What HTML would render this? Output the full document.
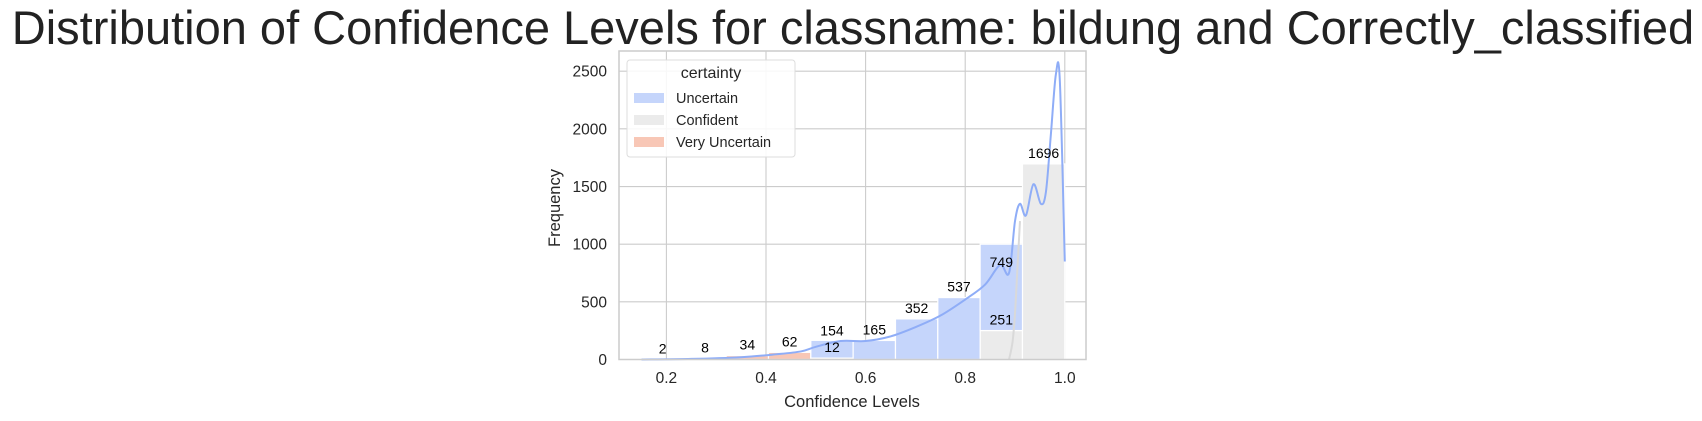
<!DOCTYPE html>
<html><head><meta charset="utf-8">
<style>
body{margin:0;background:#fff;}
svg{display:block;font-family:"Liberation Sans","DejaVu Sans",sans-serif;}
</style></head>
<body>
<svg id="chart" width="1702" height="421" viewBox="0 0 1702 421">
<text x="853" y="44" text-anchor="middle" font-size="47" fill="#222">Distribution of Confidence Levels for classname: bildung and Correctly_classified</text>
<g id="grid"></g>
<g id="bars"></g>
<g id="kde"></g>
<g id="labels"></g>
<g id="axes"></g>
<g>
<rect x="627" y="60" width="168" height="97" rx="3" fill="#fff" fill-opacity="0.85" stroke="#ddd"/>
<text x="711" y="78" text-anchor="middle" font-size="16" fill="#262626">certainty</text>
<g><rect x="634" y="93" width="30" height="10" fill="#c5d5fb"/><text x="676" y="103" font-size="14.5" fill="#262626">Uncertain</text></g>
<g><rect x="634" y="115" width="30" height="10" fill="#ebebeb"/><text x="676" y="125" font-size="14.5" fill="#262626">Confident</text></g>
<g><rect x="634" y="137" width="30" height="10" fill="#f8c7b6"/><text x="676" y="147" font-size="14.5" fill="#262626">Very Uncertain</text></g>
</g>
<text x="852" y="407" text-anchor="middle" font-size="16.5" fill="#262626">Confidence Levels</text>
<text transform="translate(560,208) rotate(-90)" text-anchor="middle" font-size="16.5" fill="#262626">Frequency</text>
</svg>
<script>
const binStart = 0.15;
const binWidth = 0.085;
const uncertainCounts = [0,0,0,0,154,165,352,537,749,0];
const confidentCounts = [0,0,0,0,0,0,0,0,251,1696];
const veryUncertainCounts = [2,8,34,62,12,0,0,0,0,0];
const xTicks = [0.2,0.4,0.6,0.8,1.0];
const xTickLabels = ["0.2","0.4","0.6","0.8","1.0"];
const yTicks = [0,500,1000,1500,2000,2500];
const yTickLabels = ["0","500","1000","1500","2000","2500"];
const kdeX = [0.15,0.25,0.35,0.42,0.47,0.5,0.55,0.6,0.65,0.7,0.75,0.8,0.84,0.87,0.888,0.9,0.91,0.922,0.937,0.952,0.962,0.972,0.982,0.99,1.0];
const kdeY = [0,5,20,45,70,110,160,160,200,280,380,520,650,820,750,1200,1350,1250,1520,1350,1450,1950,2470,2420,850];
const kdeConfX = [0.888,0.895,0.9,0.905,0.91];
const kdeConfY = [0,150,400,800,1200];

const NS="http://www.w3.org/2000/svg";
const X=v=>566.8+v*498;
const Y=v=>359.5-v*0.11532;
function mk(tag,attrs,parent){const e=document.createElementNS(NS,tag);for(const k in attrs)e.setAttribute(k,attrs[k]);parent.appendChild(e);return e;}
function smooth(pts){let d='M'+pts[0][0]+','+pts[0][1];for(let i=0;i<pts.length-1;i++){const p0=pts[i-1]||pts[i],p1=pts[i],p2=pts[i+1],p3=pts[i+2]||p2;const c1=[p1[0]+(p2[0]-p0[0])/6,p1[1]+(p2[1]-p0[1])/6],c2=[p2[0]-(p3[0]-p1[0])/6,p2[1]-(p3[1]-p1[1])/6];d+=' C'+c1+' '+c2+' '+p2;}return d;}
const grid=document.getElementById('grid'),bars=document.getElementById('bars'),kde=document.getElementById('kde'),labels=document.getElementById('labels'),axes=document.getElementById('axes');
xTicks.forEach((t,i)=>{
  const l=mk('line',{x1:X(t),x2:X(t),y1:51,y2:359.5,stroke:'#cccccc','stroke-width':1.1},grid);
  
  
  const tx=mk('text',{x:X(t),y:383,'text-anchor':'middle','font-size':15.5,fill:'#262626'},axes);
  tx.textContent=xTickLabels[i];
  
  
});
yTicks.forEach((t,i)=>{
  const l=mk('line',{x1:619,x2:1086,y1:Y(t),y2:Y(t),stroke:'#cccccc','stroke-width':1.1},grid);
  
  
  const tx=mk('text',{x:607,y:Y(t)+5.5,'text-anchor':'end','font-size':15.5,fill:'#262626'},axes);
  tx.textContent=yTickLabels[i];
  
  
});
const series=[[veryUncertainCounts,'#f8c7b6','very-uncertain'],[confidentCounts,'#ebebeb','confident'],[uncertainCounts,'#c5d5fb','uncertain']];
const base=new Array(10).fill(0);
series.forEach(([arr,col,nm])=>{
  arr.forEach((c,i)=>{
    if(!c)return;
    const x0=X(binStart+i*binWidth),x1=X(binStart+(i+1)*binWidth);
    const r=mk('rect',{x:x0,y:Y(base[i]+c),width:x1-x0,height:Y(base[i])-Y(base[i]+c),fill:col,stroke:'#fff','stroke-width':1.2},bars);
    
    
    const t=mk('text',{x:(x0+x1)/2,y:Y(c)-6,'text-anchor':'middle','font-size':14,fill:'#000'},labels);
    t.textContent=c;
    
    
    base[i]+=c;
  });
});
const p1=mk('path',{d:smooth(kdeConfX.map((x,i)=>[X(x),Y(kdeConfY[i])])),fill:'none',stroke:'#d9d9d9','stroke-width':2},kde);


const p2=mk('path',{d:smooth(kdeX.map((x,i)=>[X(x),Y(kdeY[i])])),fill:'none',stroke:'#8fadf7','stroke-width':2,'stroke-linejoin':'round'},kde);


const fr=mk('rect',{x:619,y:51,width:467,height:308.5,fill:'none',stroke:'#cccccc','stroke-width':1.5},axes);


</script>
</body></html>
